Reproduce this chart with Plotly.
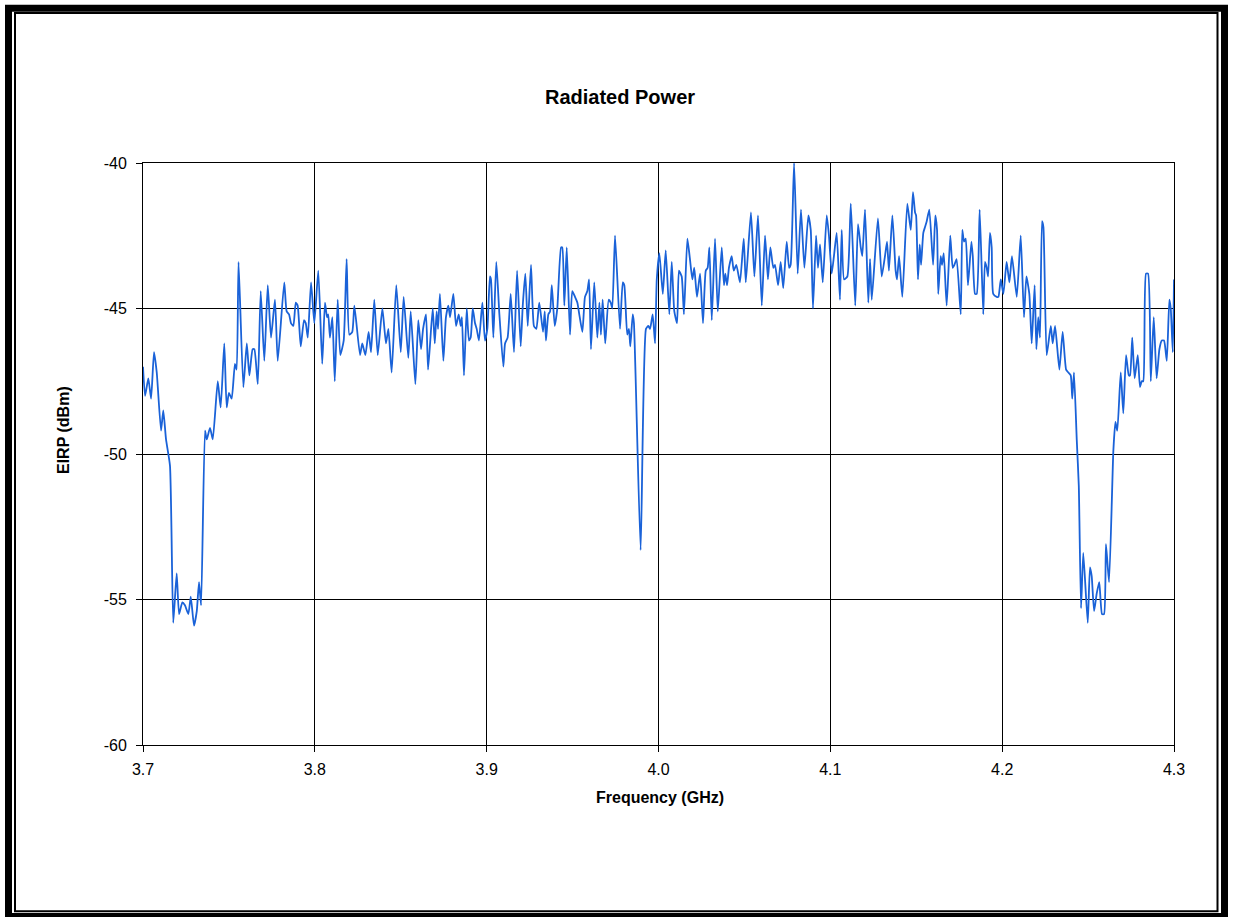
import plotly.graph_objects as go

# ---- data ----
freq_ghz = [
    3.7000, 3.7012, 3.7031, 3.7047, 3.7064, 3.7080, 3.7105, 3.7118, 3.7134, 3.7157,
    3.7176, 3.7196, 3.7210, 3.7229, 3.7244, 3.7264, 3.7278, 3.7297, 3.7313, 3.7326,
    3.7338, 3.7361, 3.7371, 3.7390, 3.7406, 3.7435, 3.7452, 3.7473, 3.7487, 3.7500,
    3.7516, 3.7535, 3.7545, 3.7556, 3.7584, 3.7604, 3.7619,
    3.7638, 3.7648, 3.7668, 3.7685, 3.7706, 3.7726, 3.7745, 3.7768, 3.7784, 3.7822,
    3.7836, 3.7850, 3.7861, 3.7875, 3.7889, 3.7900, 3.7918, 3.7937, 3.7947, 3.7959,
    3.7978, 3.7997, 3.8020, 3.8043, 3.8059, 3.8071, 3.8078, 3.8088, 3.8102, 3.8116,
    3.8133, 3.8148, 3.8168, 3.8185, 3.8201, 3.8218, 3.8230,
    3.8263, 3.8276, 3.8294, 3.8313, 3.8327, 3.8346, 3.8366, 3.8393, 3.8414, 3.8428,
    3.8447, 3.8474, 3.8500, 3.8517, 3.8544, 3.8558, 3.8585, 3.8602, 3.8618, 3.8630,
    3.8647, 3.8659, 3.8686, 3.8698, 3.8709, 3.8717, 3.8728, 3.8748, 3.8763, 3.8777,
    3.8787, 3.8806, 3.8822, 3.8837,
    3.8849, 3.8856, 3.8868, 3.8884, 3.8897, 3.8907, 3.8919, 3.8932, 3.8942, 3.8955,
    3.8975, 3.8990, 3.9004, 3.9019, 3.9025, 3.9039, 3.9056, 3.9074, 3.9097, 3.9107,
    3.9122, 3.9140, 3.9159, 3.9177, 3.9198, 3.9210, 3.9225, 3.9239, 3.9258, 3.9275,
    3.9289, 3.9306, 3.9328, 3.9338, 3.9345, 3.9359, 3.9369, 3.9379, 3.9396, 3.9411,
    3.9433, 3.9440, 3.9452,
    3.9466, 3.9485, 3.9498, 3.9514, 3.9528, 3.9539, 3.9557, 3.9572, 3.9586, 3.9596,
    3.9607, 3.9626, 3.9644, 3.9656, 3.9665, 3.9675, 3.9690, 3.9710, 3.9722, 3.9731,
    3.9747, 3.9776, 3.9792, 3.9801, 3.9818, 3.9828, 3.9836, 3.9850, 3.9857, 3.9896,
    3.9927, 3.9941, 3.9951, 3.9966, 3.9980, 3.9990, 4.0005, 4.0025, 4.0042, 4.0063,
    4.0077, 4.0092, 4.0108, 4.0119, 4.0135, 4.0148, 4.0168, 4.0183, 4.0197, 4.0208,
    4.0224, 4.0242, 4.0259, 4.0275, 4.0286, 4.0296, 4.0310, 4.0329, 4.0345, 4.0368,
    4.0381, 4.0389, 4.0399, 4.0410, 4.0426, 4.0438, 4.0453, 4.0474, 4.0496, 4.0508,
    4.0538, 4.0558, 4.0579, 4.0601, 4.0620, 4.0637, 4.0651, 4.0668,
    4.0678, 4.0696, 4.0711, 4.0726, 4.0746, 4.0760, 4.0769, 4.0789, 4.0810, 4.0829,
    4.0849, 4.0872, 4.0886, 4.0899, 4.0917, 4.0928, 4.0940, 4.0956, 4.0979, 4.0992,
    4.1008, 4.1021, 4.1037, 4.1056, 4.1066, 4.1080, 4.1099, 4.1119, 4.1145, 4.1161,
    4.1177, 4.1186, 4.1202, 4.1221, 4.1231, 4.1241, 4.1277,
    4.1299, 4.1318, 4.1330, 4.1341, 4.1361, 4.1380, 4.1388, 4.1400, 4.1419, 4.1448,
    4.1468, 4.1481, 4.1493, 4.1499, 4.1510, 4.1520, 4.1528, 4.1541, 4.1551, 4.1561,
    4.1576, 4.1598, 4.1611, 4.1621, 4.1628, 4.1642, 4.1650, 4.1660, 4.1677, 4.1698,
    4.1712, 4.1722, 4.1735, 4.1759, 4.1768, 4.1778, 4.1788, 4.1801, 4.1821, 4.1829,
    4.1842, 4.1852, 4.1869, 4.1890,
    4.1900, 4.1910, 4.1918, 4.1929, 4.1939, 4.1948, 4.1968, 4.1978, 4.1992, 4.2007,
    4.2026, 4.2042, 4.2057, 4.2085, 4.2108, 4.2127, 4.2141, 4.2158, 4.2172, 4.2189,
    4.2199, 4.2210, 4.2220, 4.2232, 4.2240, 4.2259, 4.2283, 4.2294, 4.2308, 4.2333,
    4.2352, 4.2372, 4.2385, 4.2399, 4.2408, 4.2418, 4.2434, 4.2446, 4.2459, 4.2472,
    4.2498, 4.2511, 4.2521, 4.2535, 4.2550, 4.2565, 4.2581, 4.2593, 4.2604, 4.2622,
    4.2647, 4.2659, 4.2670, 4.2690, 4.2705, 4.2721, 4.2737, 4.2744, 4.2757, 4.2771,
    4.2789, 4.2802, 4.2812, 4.2821, 4.2837, 4.2849, 4.2865, 4.2882, 4.2899, 4.2915,
    4.2929, 4.2942, 4.2958, 4.2973, 4.2981, 4.2993, 4.3000,
]

eirp_dbm = [
    -47.0, -48.0, -47.4, -48.1, -46.5, -47.2, -49.2, -48.5, -49.5, -50.4,
    -55.8, -54.1, -55.5, -55.1, -55.2, -55.5, -54.9, -55.9, -55.4, -54.4,
    -55.2, -49.2, -49.5, -49.1, -49.5, -47.5, -48.4, -46.2, -48.4, -47.9,
    -48.1, -46.9, -47.1, -43.4, -47.7, -46.2, -47.3,
    -46.4, -46.4, -47.6, -44.4, -46.8, -44.2, -46.0, -44.7, -46.8, -44.1,
    -45.1, -45.2, -45.5, -45.6, -44.8, -44.9, -46.3, -45.4, -45.5, -46.0,
    -44.1, -45.5, -43.7, -46.9, -44.8, -45.3, -45.2, -46.0, -45.3, -47.5,
    -44.7, -46.6, -46.1, -43.3, -45.9, -45.8, -44.9,
    -46.6, -46.2, -46.6, -45.8, -46.5, -44.7, -46.6, -45.0, -46.2, -45.7,
    -47.2, -44.2, -46.5, -44.6, -46.7, -45.1, -47.6, -45.4, -46.4, -45.7,
    -45.2, -47.1, -45.0, -46.2, -45.1, -45.7, -44.5, -46.8, -45.3, -44.9,
    -45.3, -44.5, -45.6, -45.2,
    -45.6, -45.3, -47.3, -45.0, -46.1, -46.0, -45.0, -45.5, -45.7, -46.1,
    -44.8, -46.1, -45.7, -43.9, -44.0, -46.0, -43.4, -45.2, -47.0, -46.2,
    -46.0, -44.5, -46.5, -43.7, -46.3, -44.9, -43.8, -45.6, -43.5, -45.6,
    -45.7, -44.8, -45.8, -45.1, -46.1, -45.2, -45.1, -44.2, -45.6, -45.0,
    -42.9, -42.9, -44.9,
    -42.9, -45.9, -44.4, -44.6, -44.8, -45.2, -45.8, -44.6, -44.4, -44.0,
    -46.4, -44.1, -46.0, -44.8, -45.9, -44.7, -46.2, -44.7, -44.8, -45.0,
    -42.5, -45.7, -44.1, -44.2, -45.9, -45.7, -46.3, -45.2, -45.5, -53.3,
    -45.7, -45.6, -45.7, -45.2, -46.2, -44.0, -43.1, -44.5, -43.0, -45.2,
    -43.4, -45.1, -45.5, -43.7, -43.9, -45.2, -42.6, -43.3, -44.0, -43.6,
    -44.6, -43.8, -45.5, -43.7, -43.6, -42.9, -45.4, -42.6, -45.1, -42.9,
    -44.2, -43.8, -44.2, -43.6, -43.2, -43.7, -43.5, -44.1, -42.6, -44.1,
    -41.7, -43.9, -41.8, -44.9, -42.5, -44.0, -42.9, -43.6,
    -43.5, -44.2, -43.4, -44.3, -42.7, -43.6, -43.5, -40.0, -43.8, -41.6,
    -43.6, -41.8, -42.3, -45.0, -42.5, -43.6, -42.8, -44.1, -41.8, -42.5,
    -43.8, -43.2, -42.4, -44.7, -42.3, -44.0, -43.9, -41.4, -44.9, -42.1,
    -42.9, -43.2, -41.6, -44.8, -43.3, -44.7, -41.9,
    -43.9, -43.2, -42.7, -43.7, -41.8, -43.7, -44.0, -43.2, -44.6, -41.4,
    -42.3, -41.0, -41.7, -41.8, -44.0, -42.8, -43.5, -42.4, -42.2, -42.0,
    -41.6, -43.5, -41.8, -42.3, -44.5, -43.2, -43.5, -43.1, -44.9, -42.5,
    -43.6, -43.5, -43.3, -45.2, -42.3, -42.7, -42.6, -44.2, -42.7, -43.2,
    -44.5, -44.5, -41.6, -45.2,
    -43.4, -43.6, -43.9, -42.4, -42.9, -44.5, -44.6, -44.6, -44.0, -44.5,
    -43.4, -44.1, -43.2, -44.6, -42.5, -45.3, -43.9, -44.5, -46.2, -44.2,
    -46.4, -45.3, -46.0, -42.0, -42.2, -46.6, -45.6, -46.2, -45.6, -47.1,
    -45.8, -47.1, -47.2, -47.3, -48.1, -47.2, -49.5, -51.1, -55.3, -53.4,
    -55.8, -53.9, -54.2, -55.4, -54.8, -54.4, -55.5, -55.5, -53.1, -54.4,
    -49.9, -48.9, -49.2, -47.2, -48.6, -46.6, -47.3, -47.3, -46.0, -47.4,
    -46.6, -47.7, -47.5, -47.5, -43.8, -43.8, -47.5, -45.3, -47.4, -46.4,
    -46.1, -46.1, -46.8, -44.7, -45.0, -46.5, -44.0,
]

x_ticks = [3.7, 3.8, 3.9, 4.0, 4.1, 4.2, 4.3]
x_tick_labels = ["3.7", "3.8", "3.9", "4.0", "4.1", "4.2", "4.3"]
y_ticks = [-60, -55, -50, -45, -40]
y_tick_labels = ["-60", "-55", "-50", "-45", "-40"]

chart_title = "Radiated Power"
x_title = "Frequency (GHz)"
y_title = "EIRP (dBm)"

# ---- figure geometry (pixels) ----
W, H = 1233, 917
L, R, T, B = 143, 59, 163, 172
PW, PH = W - L - R, H - T - B


def px_x(px):
    return (px - L) / PW


def px_y(py):
    return (H - B - py) / PH


FONT = "Liberation Sans, Arial, sans-serif"

fig = go.Figure()
fig.add_trace(go.Scatter(
    x=freq_ghz, y=eirp_dbm, mode="lines",
    line=dict(color="#1a62d8", width=1.8, shape="spline", smoothing=0.5),
    showlegend=False, hoverinfo="x+y",
))

axis_common = dict(
    showgrid=True, gridcolor="#000000", gridwidth=1,
    showline=True, linecolor="#000000", linewidth=1, mirror=True,
    ticks="outside", ticklen=6, tickcolor="#000000", tickwidth=1,
    zeroline=False, tickfont=dict(family=FONT, size=16, color="#000000"),
)

fig.update_xaxes(range=[3.7, 4.3], tickvals=x_ticks, ticktext=x_tick_labels,
                 ticklabelstandoff=4, **axis_common)
fig.update_yaxes(range=[-60, -40], tickvals=y_ticks, ticktext=y_tick_labels,
                 ticklabelstandoff=6, **axis_common)

shapes = [
    # outer thick frame
    dict(type="rect", xref="paper", yref="paper",
         x0=px_x(8.5), x1=px_x(1224.5), y0=px_y(916.5), y1=px_y(8.2),
         line=dict(color="#000000", width=7), fillcolor="rgba(0,0,0,0)", layer="above"),
    # inner thin frame
    dict(type="rect", xref="paper", yref="paper",
         x0=px_x(15), x1=px_x(1217.5), y0=px_y(911.3), y1=px_y(13),
         line=dict(color="#000000", width=2), fillcolor="rgba(0,0,0,0)", layer="above"),
]

annotations = [
    dict(text="<b>%s</b>" % chart_title, xref="paper", yref="paper",
         x=px_x(620), y=px_y(97), showarrow=False, xanchor="center", yanchor="middle",
         font=dict(family=FONT, size=20, color="#000000")),
    dict(text="<b>%s</b>" % x_title, xref="paper", yref="paper",
         x=px_x(660), y=px_y(797), showarrow=False, xanchor="center", yanchor="middle",
         font=dict(family=FONT, size=16, color="#000000")),
    dict(text="<b>%s</b>" % y_title, xref="paper", yref="paper",
         x=px_x(63), y=px_y(430), showarrow=False, xanchor="center", yanchor="middle",
         textangle=-90, font=dict(family=FONT, size=16, color="#000000")),
]

fig.update_layout(
    width=W, height=H, autosize=False,
    margin=dict(l=L, r=R, t=T, b=B, pad=0),
    paper_bgcolor="#ffffff", plot_bgcolor="#ffffff",
    font=dict(family=FONT, size=16, color="#000000"),
    shapes=shapes, annotations=annotations,
    showlegend=False,
)

fig.write_html(
    "out.html",
    config={"displayModeBar": False},
    post_script="document.body.style.margin='0px';document.body.style.overflow='hidden';",
)
